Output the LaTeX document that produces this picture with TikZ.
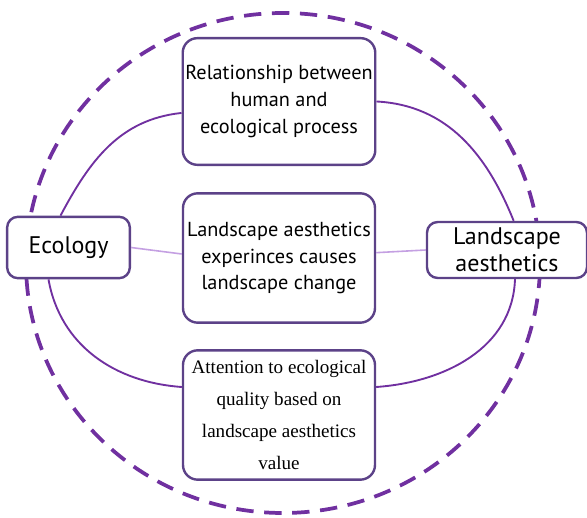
\documentclass[tikz,border=0pt]{standalone}
\usepackage{fontspec}
\setmainfont{PT Sans}
\newfontfamily\boxserif{Liberation Serif}
\usepackage{xcolor}
\definecolor{ppl1}{RGB}{112,48,160}
\definecolor{ppl2}{RGB}{92,66,136}
\definecolor{ppl3}{RGB}{196,160,226}
\usetikzlibrary{calc}
\tikzset{
  box/.style={draw=ppl2,line width=1.8pt,rounded corners=11pt,fill=white,align=center,
    inner sep=2pt,minimum width=144pt,font=\fontsize{15.2}{20}\selectfont},
  side/.style={draw=ppl2,line width=1.8pt,rounded corners=8pt,fill=white,align=center,
    inner sep=2pt,font=\fontsize{18}{20.5}\selectfont},
  arc/.style={ppl1,line width=1.4pt},
  thin/.style={ppl3,line width=1.2pt},
}

\begin{document}
\begin{tikzpicture}[x=0.75pt,y=0.75pt]
\useasboundingbox (0,0) rectangle (587,518);
\draw[ppl1,line width=2.8pt,dash pattern=on 13pt off 8pt] (283,255) ellipse (257 and 250);

\node[box,minimum height=95pt] (top) at (279,416.5) {Relationship between\\human and\\ecological process};
\node[box,minimum height=97pt] (mid) at (279,260) {Landscape aesthetics\\experinces causes\\landscape change};
\node[box,minimum height=97pt,font=\boxserif\fontsize{14.3}{24}\selectfont] (bot) at (279,103) {Attention to ecological\\quality based on\\landscape aesthetics\\value};
\node[side,minimum width=92pt,minimum height=46pt] (eco) at (68.5,270.5) {Ecology};
\node[side,minimum width=120pt,minimum height=42pt] (land) at (507,268) {Landscape\\aesthetics};

\draw[arc] ([xshift=-6pt]eco.north) to[out=62,in=186] ([yshift=-8.6pt]top.west);
\draw[arc] (top.east) to[out=-3,in=112] ([xshift=5pt]land.north);
\draw[arc] ([xshift=-15pt]eco.south) to[out=-80,in=176] ([yshift=21pt]bot.west);
\draw[arc] ([yshift=21pt]bot.east) to[out=4,in=-92] ([xshift=6pt]land.south);
\draw[thin] (eco.east) -- ([yshift=3pt]mid.west);
\draw[thin] ([yshift=4pt]mid.east) -- (land.west);
\end{tikzpicture}
\end{document}
